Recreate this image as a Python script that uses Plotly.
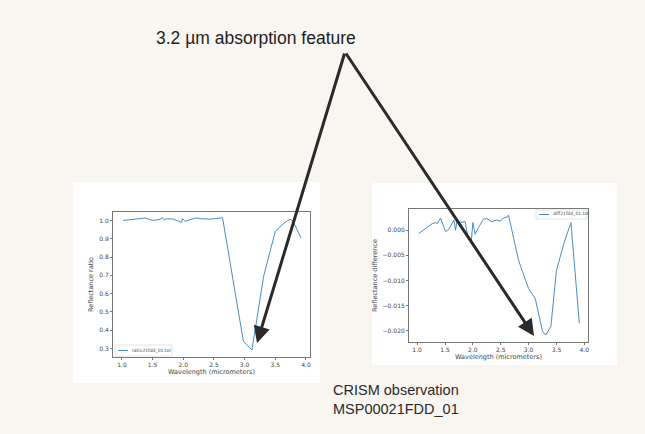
import plotly.graph_objects as go

W, H = 645, 434

# Left plot: reflectance ratio
ratio_wl = [1.02, 1.19, 1.38, 1.46, 1.52, 1.63, 1.65, 1.69, 1.73, 1.84, 1.92, 1.97, 1.99,
            2.03, 2.11, 2.20, 2.30, 2.44, 2.55, 2.64, 2.98, 3.12, 3.31, 3.50, 3.64, 3.74,
            3.79, 3.92]
ratio_val = [1.000, 1.007, 1.013, 1.004, 1.000, 1.007, 1.016, 1.004, 1.009, 1.007, 0.998,
             0.989, 1.009, 0.995, 1.004, 1.013, 1.009, 1.007, 1.011, 1.015, 0.340, 0.293,
             0.695, 0.940, 0.985, 1.007, 0.995, 0.904]

# Right plot: reflectance difference
diff_wl = [1.03, 1.15, 1.27, 1.33, 1.36, 1.42, 1.51, 1.57, 1.66, 1.69, 1.72, 1.78, 1.86,
           1.92, 1.97, 2.00, 2.04, 2.10, 2.19, 2.25, 2.34, 2.43, 2.49, 2.55, 2.61, 2.64,
           2.82, 3.00, 3.12, 3.25, 3.31, 3.40, 3.50, 3.64, 3.76, 3.91]
diff_val = [-0.00066, 0.0004, 0.0013, 0.0015, 0.0013, 0.0024, -0.0003, 0.0002, 0.0020,
            0.0000, 0.0022, 0.0015, 0.0017, -0.0018, -0.0024, 0.0015, -0.0008, 0.0005,
            0.0022, 0.0023, 0.0017, 0.0020, 0.0018, 0.0024, 0.0026, 0.0030, -0.0060,
            -0.0116, -0.0136, -0.0201, -0.0208, -0.0191, -0.0080, -0.0024, 0.0015, -0.0185]

x_ticks = [1.0, 1.5, 2.0, 2.5, 3.0, 3.5, 4.0]
ratio_ticks = [0.3, 0.4, 0.5, 0.6, 0.7, 0.8, 0.9, 1.0]
diff_ticks = [0.0, -0.005, -0.010, -0.015, -0.020]

ratio_name = "ratio21fdd_01.txt"
diff_name = "diff21fdd_01.txt"
title_text = "3.2 µm absorption feature"
obs_text = "CRISM observation<br>MSP00021FDD_01"

LINE_C = "#4a8cc4"
TXT_C = "#444444"

def px(x):
    return x / W

def py(y):
    return 1 - y / H

fig = go.Figure()
fig.add_trace(go.Scatter(x=ratio_wl, y=ratio_val, mode="lines", name=ratio_name,
                         line=dict(color=LINE_C, width=1), xaxis="x", yaxis="y"))
fig.add_trace(go.Scatter(x=diff_wl, y=diff_val, mode="lines", name=diff_name,
                         line=dict(color=LINE_C, width=1), xaxis="x2", yaxis="y2"))

axis_common = dict(showline=True, mirror=True, linecolor="#777", linewidth=1,
                   ticks="outside", ticklen=2, tickcolor="#777", showgrid=False,
                   zeroline=False, tickfont=dict(size=6, color=TXT_C, family="DejaVu Sans"),
                   title_font=dict(size=6.5, color=TXT_C, family="DejaVu Sans"))

fig.update_layout(
    width=W, height=H, margin=dict(l=0, r=0, t=0, b=0),
    paper_bgcolor="#f9f5f1", plot_bgcolor="white", showlegend=False,
    font=dict(color=TXT_C),
    xaxis=dict(domain=[px(113), px(310)], range=[0.854, 4.066], tickvals=x_ticks,
               ticktext=[f"{v:.1f}" for v in x_ticks], anchor="y",
               title=dict(text="Wavelength (micrometers)", standoff=2), **axis_common),
    yaxis=dict(domain=[py(357), py(212)], range=[0.254, 1.046], tickvals=ratio_ticks,
               ticktext=[f"{v:.1f}" for v in ratio_ticks], anchor="x",
               title=dict(text="Reflectance ratio", standoff=4), **axis_common),
    xaxis2=dict(domain=[px(409), px(588)], range=[0.854, 4.066], tickvals=x_ticks,
                ticktext=[f"{v:.1f}" for v in x_ticks], anchor="y2",
                title=dict(text="Wavelength (micrometers)", standoff=2), **axis_common),
    yaxis2=dict(domain=[py(342), py(209)], range=[-0.0222, 0.0042], tickvals=diff_ticks,
                ticktext=[f"{v:.3f}".replace("-", "\u2212") if v != 0 else "0.000" for v in diff_ticks],
                anchor="x2",
                title=dict(text="Reflectance difference", standoff=4), **axis_common),
)

# White panels behind the charts
fig.add_shape(type="rect", xref="paper", yref="paper", x0=px(73), x1=px(320),
              y0=py(383), y1=py(182), fillcolor="white", line=dict(width=0), layer="below")
fig.add_shape(type="rect", xref="paper", yref="paper", x0=px(372), x1=px(617),
              y0=py(365), y1=py(183), fillcolor="white", line=dict(width=0), layer="below")

# Small matplotlib-style legends
def add_legend(x0, x1, y0, y1, name):
    yc = (y0 + y1) / 2
    fig.add_shape(type="rect", xref="paper", yref="paper", x0=px(x0), x1=px(x1),
                  y0=py(y1), y1=py(y0), fillcolor="white", line=dict(color="#dddddd", width=0.8))
    fig.add_shape(type="line", xref="paper", yref="paper", x0=px(x0 + 3), x1=px(x0 + 13),
                  y0=py(yc), y1=py(yc), line=dict(color=LINE_C, width=1))
    fig.add_annotation(text=name, xref="paper", yref="paper", x=px(x0 + 15), y=py(yc),
                       xanchor="left", yanchor="middle", showarrow=False,
                       font=dict(size=4.5, color=TXT_C, family="DejaVu Sans"))

add_legend(115, 172, 345, 356, ratio_name)
add_legend(536, 587, 210, 219, diff_name)

# Texts
fig.add_annotation(text=title_text, xref="paper", yref="paper", x=px(256), y=py(38),
                   xanchor="center", yanchor="middle", showarrow=False,
                   font=dict(size=17.5, color="#1e1e1e", family="Liberation Sans"))
fig.add_annotation(text=obs_text, xref="paper", yref="paper", x=px(331), y=py(380),
                   xanchor="left", yanchor="top", align="left", showarrow=False,
                   font=dict(size=14.5, color="#2a2a2a", family="Liberation Sans"))

# Arrows from the label to the absorption minima
tail = (345, 52)
for tip in [(257, 343), (534, 336)]:
    fig.add_annotation(text="", xref="paper", yref="paper", x=px(tip[0]), y=py(tip[1]),
                       ax=tail[0] - tip[0], ay=tail[1] - tip[1], axref="pixel", ayref="pixel",
                       showarrow=True, arrowhead=2, arrowsize=1.1, arrowwidth=3,
                       arrowcolor="#2a2a2a", standoff=0)

fig.write_html("out.html")
